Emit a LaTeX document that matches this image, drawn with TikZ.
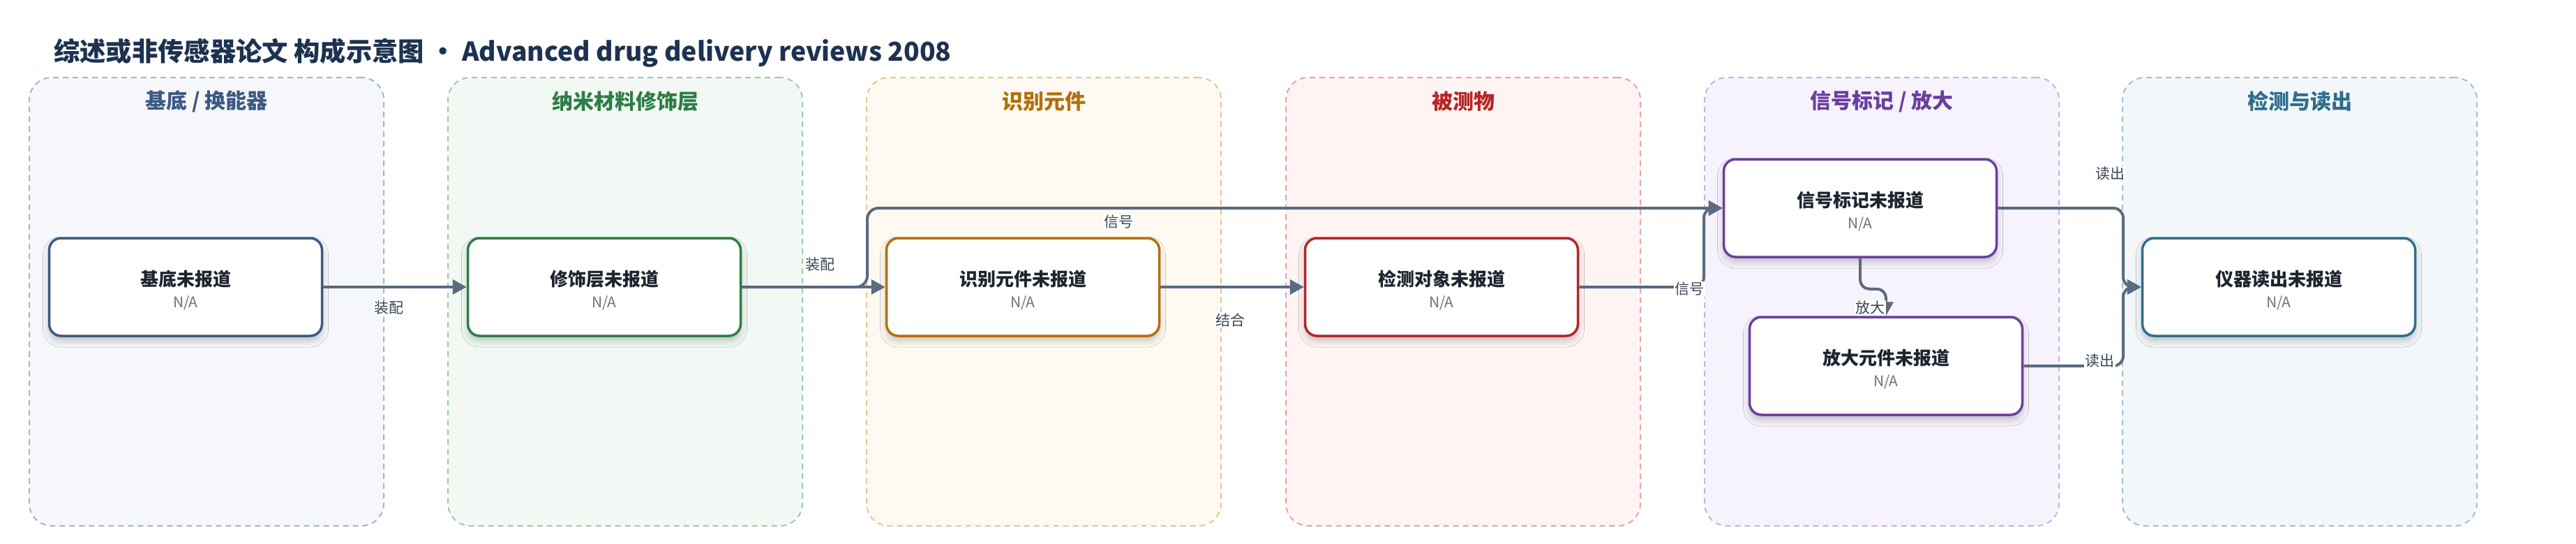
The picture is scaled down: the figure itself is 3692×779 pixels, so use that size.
\documentclass[tikz,border=0pt]{standalone}
\usepackage{fontspec}
\setmainfont{Noto Sans CJK SC}
\usetikzlibrary{arrows.meta,shadows.blur}
\definecolor{titlecol}{HTML}{1D3250}
\definecolor{edgecol}{HTML}{5B6A80}
\definecolor{labcol}{HTML}{3B4556}
\definecolor{nacol}{HTML}{6B7280}
\definecolor{txtcol}{HTML}{1F2430}
% lane colours
\definecolor{fillA}{HTML}{F5F7FB}\definecolor{bordA}{HTML}{A9B4C6}\definecolor{colA}{HTML}{3C5A82}
\definecolor{fillB}{HTML}{F2F9F4}\definecolor{bordB}{HTML}{9FCAAE}\definecolor{colB}{HTML}{2E7D46}
\definecolor{fillC}{HTML}{FFFAF1}\definecolor{bordC}{HTML}{E9C58E}\definecolor{colC}{HTML}{B36F0C}
\definecolor{fillD}{HTML}{FFF4F4}\definecolor{bordD}{HTML}{E9A3A3}\definecolor{colD}{HTML}{B52626}
\definecolor{fillE}{HTML}{F7F3FC}\definecolor{bordE}{HTML}{C7B3E2}\definecolor{colE}{HTML}{6B3FA0}
\definecolor{fillF}{HTML}{F3F7F9}\definecolor{bordF}{HTML}{A3C1CF}\definecolor{colF}{HTML}{2E6E8E}
\tikzset{
  lane/.style={draw=#1, line width=2pt, dash pattern=on 8pt off 6pt, rounded corners=32pt,
    minimum width=508pt, minimum height=642pt, inner sep=0pt},
  lanetitle/.style={font=\fontsize{30}{34}\selectfont\bfseries, text=#1, inner sep=0pt},
  box/.style={draw=#1, fill=white, line width=3.5pt, rounded corners=17pt,
    minimum width=391pt, minimum height=140pt, inner sep=0pt, align=center,
    font=\fontsize{21}{31}\selectfont, text=txtcol,
    blur shadow={shadow xshift=0pt, shadow yshift=-7pt, shadow blur radius=9pt, shadow opacity=22}},
  edge/.style={draw=edgecol, line width=4pt, -{Triangle[length=20pt,width=21pt]}},
  elabel/.style={font=\fontsize{21}{24}\selectfont, text=labcol, fill=white, inner sep=1.5pt}
}
\newcommand{\boxtext}[1]{\rule{0pt}{32pt}{\fontsize{26}{31}\selectfont\bfseries #1}\\{\color{nacol}N/A}}
\begin{document}
\begin{tikzpicture}[x=1pt,y=-1pt]
\useasboundingbox (0,0) rectangle (3692,779);
\fill[white] (0,0) rectangle (3692,779);

% title
\node[anchor=west, font=\fontsize{37.3}{44}\selectfont\bfseries, text=titlecol, inner sep=0pt] (title) at (77,76)
  {综述或非传感器论文 构成示意图 • Advanced drug delivery reviews 2008};

% lanes
\node[lane=bordA, fill=fillA] (L1) at (296,432) {};
\node[lane=bordB, fill=fillB] (L2) at (896,432) {};
\node[lane=bordC, fill=fillC] (L3) at (1496,432) {};
\node[lane=bordD, fill=fillD] (L4) at (2097,432) {};
\node[lane=bordE, fill=fillE] (L5) at (2697,432) {};
\node[lane=bordF, fill=fillF] (L6) at (3296,432) {};

\node[lanetitle=colA] (T1) at (296,145) {基底 / 换能器};
\node[lanetitle=colB] (T2) at (896,145) {纳米材料修饰层};
\node[lanetitle=colC] (T3) at (1496,145) {识别元件};
\node[lanetitle=colD] (T4) at (2097,145) {被测物};
\node[lanetitle=colE] (T5) at (2697,145) {信号标记 / 放大};
\node[lanetitle=colF] (T6) at (3296,145) {检测与读出};

% boxes
\node[box=colA] (A) at (266,411) {\boxtext{基底未报道}};
\node[box=colB] (B) at (866,411) {\boxtext{修饰层未报道}};
\node[box=colC] (C) at (1466,411) {\boxtext{识别元件未报道}};
\node[box=colD] (D) at (2066,411) {\boxtext{检测对象未报道}};
\node[box=colE] (E) at (2666,298) {\boxtext{信号标记未报道}};
\node[box=colE] (F) at (2703,524) {\boxtext{放大元件未报道}};
\node[box=colF] (G) at (3266,411) {\boxtext{仪器读出未报道}};

% connector waypoints
\coordinate (bu) at (1243,411);
\coordinate (bt) at (1243,298);
\coordinate (du) at (2442,411);
\coordinate (dt) at (2442,298);
\coordinate (gx) at (3043,411);

% connectors
\draw[edge] (A.east) -- (B.west);
\draw[edge] (B.east) -- (C.west);
\draw[edge, rounded corners=16pt] (B.east) -- (bu) -- (bt) -- (E.west);
\draw[edge] (C.east) -- (D.west);
\draw[edge, rounded corners=14pt] (D.east) -- (du) -- (dt) -- (E.west);
\draw[edge, rounded corners=13pt] (E.south) -- ++(0,44) -| (F.north);
\draw[edge, rounded corners=14pt] (E.east) -| (gx) -- (G.west);
\draw[edge, rounded corners=14pt] (F.east) -| (gx) -- (G.west);

% connector labels
\node[elabel] (l1) at (557,441) {装配};
\node[elabel] (l2) at (1175,379) {装配};
\node[elabel] (l3) at (1603,318) {信号};
\node[elabel] (l4) at (1763,458) {结合};
\node[elabel] (l5) at (2421,414) {信号};
\node[elabel] (l6) at (2680,441) {放大};
\node[elabel] (l7) at (3024,249) {读出};
\node[elabel] (l8) at (3009,517) {读出};
\end{tikzpicture}
\end{document}
